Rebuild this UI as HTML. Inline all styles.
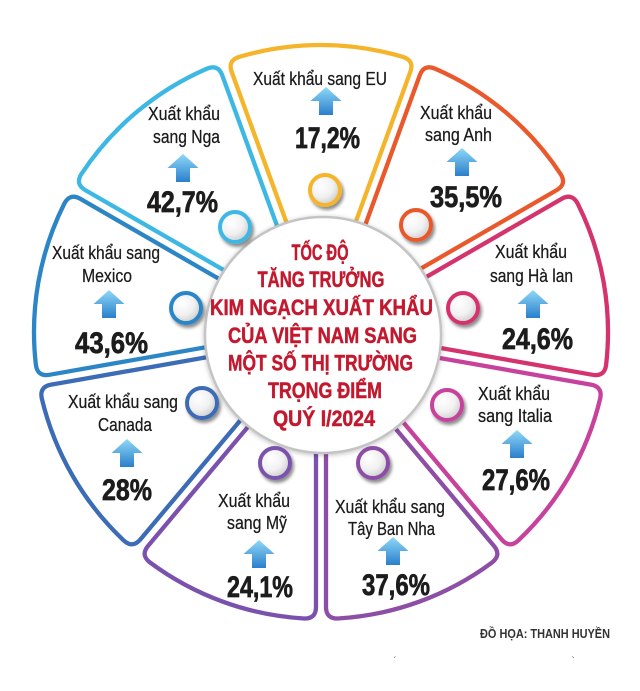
<!DOCTYPE html>
<html>
<head>
<meta charset="utf-8">
<style>
  html,body{margin:0;padding:0;background:#fff;}
  svg{display:block;}
  .lb{font-family:"Liberation Sans","Noto Sans CJK SC",sans-serif;font-size:18px;fill:#1a1a1a;stroke:#1a1a1a;stroke-width:0.25px;}
  .pc{font-family:"Liberation Sans","Noto Sans CJK SC",sans-serif;font-size:30px;font-weight:bold;fill:#1c1c1c;stroke:#1c1c1c;stroke-width:0.7px;}
  .tt{font-family:"Liberation Sans","Noto Sans CJK SC",sans-serif;font-size:22px;font-weight:bold;fill:#c2192f;stroke:#c2192f;stroke-width:0.5px;}
  .cr{font-family:"Liberation Sans","Noto Sans CJK SC",sans-serif;font-size:13px;font-weight:bold;fill:#333;}
</style>
</head>
<body>
<svg width="640" height="691" viewBox="0 0 640 691" xmlns="http://www.w3.org/2000/svg">
  <defs>
    <radialGradient id="kg" cx="0.38" cy="0.35" r="0.7">
      <stop offset="0" stop-color="#ffffff"/>
      <stop offset="0.55" stop-color="#f1f1f1"/>
      <stop offset="1" stop-color="#c9c9c9"/>
    </radialGradient>
    <linearGradient id="ag" x1="0" y1="0" x2="0" y2="1">
      <stop offset="0" stop-color="#8fd8f8"/>
      <stop offset="1" stop-color="#2a7fcb"/>
    </linearGradient>
    <filter id="ks" x="-50%" y="-50%" width="200%" height="200%">
      <feDropShadow dx="2" dy="3" stdDeviation="1.6" flood-color="#000" flood-opacity="0.45"/>
    </filter>
    <filter id="cs" x="-20%" y="-20%" width="140%" height="140%">
      <feDropShadow dx="0" dy="1" stdDeviation="2.5" flood-color="#000" flood-opacity="0.25"/>
    </filter>
    <path id="seg" d="M -15.82,-58.09 L -89.33,-260.08 Q -93.44,-271.36 -82.00,-275.04 A 287 287 0 0 1 82.00,-275.04 Q 93.44,-271.36 89.33,-260.08 L 15.82,-58.09 Z"/>
    <polygon id="arr" points="0,0 15.5,14 7,14 7,28 -7,28 -7,14 -15.5,14"/>
  </defs>

  <rect width="640" height="691" fill="#fff"/>

  <!-- segments -->
  <g fill="#fff" stroke-width="4.3" stroke-linejoin="round">
    <use href="#seg" transform="translate(321,332) rotate(0)" stroke="#f5b52b"/>
    <use href="#seg" transform="translate(321,332) rotate(40)" stroke="#e9592c"/>
    <use href="#seg" transform="translate(321,332) rotate(80)" stroke="#d5336d"/>
    <use href="#seg" transform="translate(321,332) rotate(120)" stroke="#c6429c"/>
    <use href="#seg" transform="translate(321,332) rotate(160)" stroke="#8d4ea5"/>
    <use href="#seg" transform="translate(321,332) rotate(200)" stroke="#7a52ad"/>
    <use href="#seg" transform="translate(321,332) rotate(240)" stroke="#3c6cb6"/>
    <use href="#seg" transform="translate(321,332) rotate(280)" stroke="#2c86c6"/>
    <use href="#seg" transform="translate(321,332) rotate(320)" stroke="#3db7e4"/>
  </g>

  <!-- center circle -->
  <circle cx="323" cy="335" r="118" fill="#fff" stroke="#c4c4c4" stroke-width="2.5" filter="url(#cs)"/>

  <!-- knobs -->
  <g filter="url(#ks)" fill="url(#kg)" stroke-width="4">
    <circle cx="325" cy="190" r="15" stroke="#f5b52b"/>
    <circle cx="416" cy="225" r="15" stroke="#e9592c"/>
    <circle cx="463" cy="308" r="15" stroke="#d5336d"/>
    <circle cx="447" cy="405" r="15" stroke="#c6429c"/>
    <circle cx="373" cy="463" r="15" stroke="#8d4ea5"/>
    <circle cx="275" cy="463" r="15" stroke="#7a52ad"/>
    <circle cx="202" cy="403" r="15" stroke="#3c6cb6"/>
    <circle cx="186" cy="308" r="15" stroke="#2c86c6"/>
    <circle cx="235" cy="227" r="15" stroke="#3db7e4"/>
  </g>

  <!-- arrows -->
  <g fill="url(#ag)">
    <use href="#arr" transform="translate(326,87)"/>
    <use href="#arr" transform="translate(183,154)"/>
    <use href="#arr" transform="translate(462,148)"/>
    <use href="#arr" transform="translate(109,290)"/>
    <use href="#arr" transform="translate(533,290)"/>
    <use href="#arr" transform="translate(127,439)"/>
    <use href="#arr" transform="translate(517,430)"/>
    <use href="#arr" transform="translate(259,540)"/>
    <use href="#arr" transform="translate(393,537)"/>
  </g>

  <!-- labels -->
  <g class="lb" text-anchor="middle">
    <text x="320" y="85" textLength="134" lengthAdjust="spacingAndGlyphs">Xuất khẩu sang EU</text>

    <text x="184" y="120" textLength="72" lengthAdjust="spacingAndGlyphs">Xuất khẩu</text>
    <text x="186.5" y="143" textLength="67" lengthAdjust="spacingAndGlyphs">sang Nga</text>

    <text x="456" y="119" textLength="72" lengthAdjust="spacingAndGlyphs">Xuất khẩu</text>
    <text x="458.5" y="141" textLength="67" lengthAdjust="spacingAndGlyphs">sang Anh</text>

    <text x="106" y="259" textLength="108" lengthAdjust="spacingAndGlyphs">Xuất khẩu sang</text>
    <text x="107" y="282" textLength="50" lengthAdjust="spacingAndGlyphs">Mexico</text>

    <text x="531" y="258" textLength="72" lengthAdjust="spacingAndGlyphs">Xuất khẩu</text>
    <text x="531.5" y="282" textLength="83" lengthAdjust="spacingAndGlyphs">sang Hà lan</text>

    <text x="123" y="408" textLength="110" lengthAdjust="spacingAndGlyphs">Xuất khẩu sang</text>
    <text x="125" y="431" textLength="54" lengthAdjust="spacingAndGlyphs">Canada</text>

    <text x="514" y="400" textLength="72" lengthAdjust="spacingAndGlyphs">Xuất khẩu</text>
    <text x="515" y="422" textLength="74" lengthAdjust="spacingAndGlyphs">sang Italia</text>

    <text x="254" y="507" textLength="72" lengthAdjust="spacingAndGlyphs">Xuất khẩu</text>
    <text x="257" y="529" textLength="60" lengthAdjust="spacingAndGlyphs">sang Mỹ</text>

    <text x="390" y="513" textLength="110" lengthAdjust="spacingAndGlyphs">Xuất khẩu sang</text>
    <text x="391.5" y="535" textLength="87" lengthAdjust="spacingAndGlyphs">Tây Ban Nha</text>
  </g>

  <!-- percentages -->
  <g class="pc" text-anchor="middle">
    <text x="327.5" y="148" textLength="65" lengthAdjust="spacingAndGlyphs">17,2%</text>
    <text x="182.5" y="212" textLength="71" lengthAdjust="spacingAndGlyphs">42,7%</text>
    <text x="466" y="207" textLength="72" lengthAdjust="spacingAndGlyphs">35,5%</text>
    <text x="111.5" y="353" textLength="73" lengthAdjust="spacingAndGlyphs">43,6%</text>
    <text x="537.5" y="349" textLength="71" lengthAdjust="spacingAndGlyphs">24,6%</text>
    <text x="127" y="500" textLength="50" lengthAdjust="spacingAndGlyphs">28%</text>
    <text x="516" y="490" textLength="68" lengthAdjust="spacingAndGlyphs">27,6%</text>
    <text x="260" y="597" textLength="66" lengthAdjust="spacingAndGlyphs">24,1%</text>
    <text x="396" y="595" textLength="68" lengthAdjust="spacingAndGlyphs">37,6%</text>
  </g>

  <!-- title -->
  <g class="tt" text-anchor="middle">
    <text x="320" y="260" textLength="57" lengthAdjust="spacingAndGlyphs">TỐC ĐỘ</text>
    <text x="321" y="287" textLength="127" lengthAdjust="spacingAndGlyphs">TĂNG TRƯỞNG</text>
    <text x="321.5" y="315" textLength="223" lengthAdjust="spacingAndGlyphs">KIM NGẠCH XUẤT KHẨU</text>
    <text x="322.5" y="343" textLength="189" lengthAdjust="spacingAndGlyphs">CỦA VIỆT NAM SANG</text>
    <text x="320.5" y="370.5" textLength="185" lengthAdjust="spacingAndGlyphs">MỘT SỐ THỊ TRƯỜNG</text>
    <text x="325" y="398" textLength="114" lengthAdjust="spacingAndGlyphs">TRỌNG ĐIỂM</text>
    <text x="324" y="426" textLength="102" lengthAdjust="spacingAndGlyphs">QUÝ I/2024</text>
  </g>

  <!-- credit -->
  <text class="cr" x="480" y="638" textLength="130" lengthAdjust="spacingAndGlyphs">ĐỒ HỌA: THANH HUYỀN</text>
  <text x="395" y="664" font-family="Liberation Sans, sans-serif" font-size="10" fill="#666" text-anchor="middle">´</text>
  <text x="573" y="664" font-family="Liberation Sans, sans-serif" font-size="10" fill="#666" text-anchor="middle">`</text>
</svg>
</body>
</html>
